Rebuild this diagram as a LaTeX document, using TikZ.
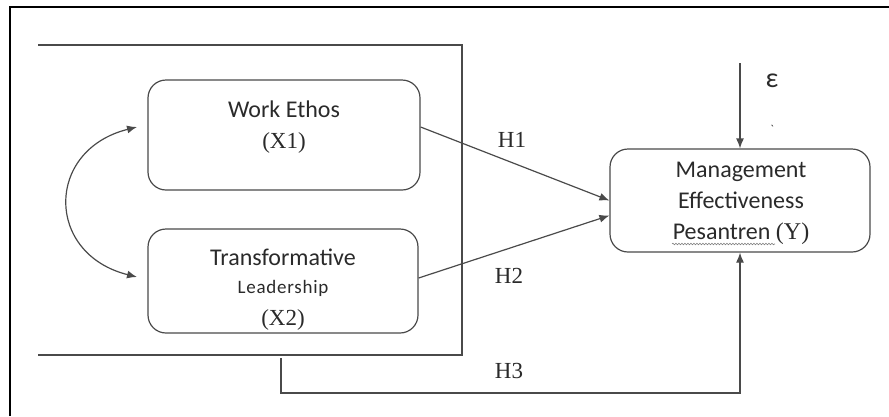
\documentclass[tikz,border=0pt]{standalone}
\usepackage{fontspec}
\setmainfont{Liberation Serif}
\newfontfamily\boxfont{Carlito}
\usepackage{tikz}
\usetikzlibrary{arrows.meta}
\usetikzlibrary{decorations.pathmorphing}
\definecolor{linegray}{HTML}{4A4A4A}
\definecolor{textgray}{HTML}{2A2A2A}

\begin{document}
\begin{tikzpicture}[x=1pt,y=-1pt,
	>={Latex[length=10pt,width=8pt]},
	varbox/.style={draw=linegray,line width=1.2pt,rounded corners=18pt},
	boxtext/.style={anchor=base,inner sep=0pt,text=textgray,font=\boxfont\fontsize{24}{28}\selectfont},
	serif/.style={anchor=base,inner sep=0pt,text=textgray,font=\fontsize{23}{27}\selectfont},
	link/.style={draw=linegray,line width=1.2pt,->}]
	\useasboundingbox (0,0) rectangle (889,416);
	\draw [black,line width=2pt] (10,416) -- (10,7) -- (889,7);
	\draw [linegray,line width=1.3pt] (38,45) -- (462,45) -- (462,355) -- (38,355);
	\node [varbox,minimum width=272pt,minimum height=110pt] (x1) at (284,135) {};
	\node [varbox,minimum width=270pt,minimum height=104pt] (x2) at (283,281) {};
	\node [varbox,minimum width=260pt,minimum height=103pt] (y) at (740,200.5) {};
	\node [boxtext] (x1name) at (284,117) {Work Ethos};
	\node [serif] (x1code) at (284,148) {(X1)};
	\node [boxtext] (x2name) at (283,265) {Transformative};
	\node [boxtext,font=\boxfont\fontsize{19}{22}\selectfont\addfontfeature{LetterSpace=4}] (x2lead) at (283,293) {Leadership};
	\node [serif] (x2code) at (283,325) {(X2)};
	\node [boxtext] (yname) at (741,177) {Management};
	\node [boxtext] (yeff) at (741,208) {Effectiveness};
	\node [boxtext] (ypes) at (741,239) {Pesantren {\rmfamily(Y)}};
	\node [serif] (h1) at (512,147) {H1};
	\node [serif] (h2) at (509,283) {H2};
	\node [serif] (h3) at (509,378) {H3};
	\node [boxtext,font=\boxfont\fontsize{28}{32}\selectfont] (eps) at (772,87) {ε};
	\node [boxtext,font=\boxfont\fontsize{12}{14}\selectfont] (tick) at (772,133) {`};
	\coordinate (c1) at (137,127);
	\coordinate (c2) at (137,277);
	\coordinate (epstop) at (740,63);
	\coordinate (h3start) at (281,358);
	\coordinate (h3corner) at (281,393);
	\draw [link,<->] (c1) .. controls (45,150) and (45,254) .. (c2);
	\draw [link] ([yshift=8pt]x1.east) -- (y.west);
	\draw [link] ([yshift=3pt]x2.east) -- ([yshift=-15pt]y.west);
	\draw [link] (epstop) -- (y.north);
	\draw [link] (h3start) -- (h3corner) -| (y.south);
	\draw [linegray!70,line width=0.6pt,decorate,decoration={snake,amplitude=0.8pt,segment length=3pt}] (672,244) -- (775,244);
	\end{tikzpicture}
\end{document}
